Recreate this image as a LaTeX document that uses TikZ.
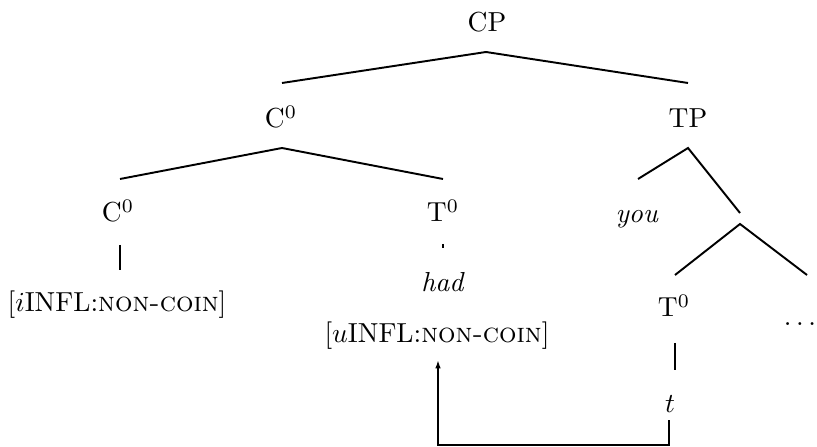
\documentclass[tikz,border=0pt]{standalone}
\usetikzlibrary{arrows.meta}
\begin{document}
\begin{tikzpicture}[x=0.3636pt,y=-0.3636pt,
  lab/.style={anchor=base,inner sep=0pt},
  branch/.style={line width=0.7pt},
  move/.style={line width=0.7pt,-{Latex[length=3pt,width=2pt]}}]
\useasboundingbox (0,0) rectangle (817,447);
% labels
\node[lab] (cp) at (487,32) {CP};
\node[lab] (c0a) at (281,128) {C$^0$};
\node[lab] (tp) at (688,128) {TP};
\node[lab] (c0b) at (118,222) {C$^0$};
\node[lab] (t0a) at (443,222) {T$^0$};
\node[lab] (you) at (637,223) {\textit{you}};
\node[lab] (had) at (443,292) {\textit{had}};
\node[lab] (ifeat) at (117,312) {[$i$INFL:\textsc{non-coin}]};
\node[lab] (ufeat) at (437,343) {[$u$INFL:\textsc{non-coin}]};
\node[lab] (t0b) at (674,317) {T$^0$};
\node[lab] (dots) at (800,326) {$\ldots$};
\node[lab] (tr) at (670,413) {$t$};
% branch points
\coordinate (cpB) at (486,52);
\coordinate (cpL) at (282,83);
\coordinate (cpR) at (688,83);
\coordinate (c0B) at (282,148);
\coordinate (c0L) at (120,179);
\coordinate (c0R) at (443,179);
\coordinate (tpB) at (688,148);
\coordinate (tpL) at (638,179);
\coordinate (tpR) at (740,213);
\coordinate (tbB) at (740,224);
\coordinate (tbL) at (675,275);
\coordinate (tbR) at (807,275);
\coordinate (cvT) at (120,245);
\coordinate (cvB) at (120,270);
\coordinate (tdT) at (443,244);
\coordinate (tdB) at (443,248);
\coordinate (tvT) at (675,343);
\coordinate (tvB) at (675,370);
\coordinate (aS) at (669,420);
\coordinate (aC) at (669,445);
\coordinate (aE) at (438,360);
% branches
\draw[branch] (cpL) -- (cpB) -- (cpR);
\draw[branch] (c0L) -- (c0B) -- (c0R);
\draw[branch] (tpL) -- (tpB) -- (tpR);
\draw[branch] (tbL) -- (tbB) -- (tbR);
\draw[branch] (cvT) -- (cvB);
\draw[branch] (tdT) -- (tdB);
\draw[branch] (tvT) -- (tvB);
% movement arrow
\draw[move] (aS) -- (aC) -| (aE);
\end{tikzpicture}
\end{document}
